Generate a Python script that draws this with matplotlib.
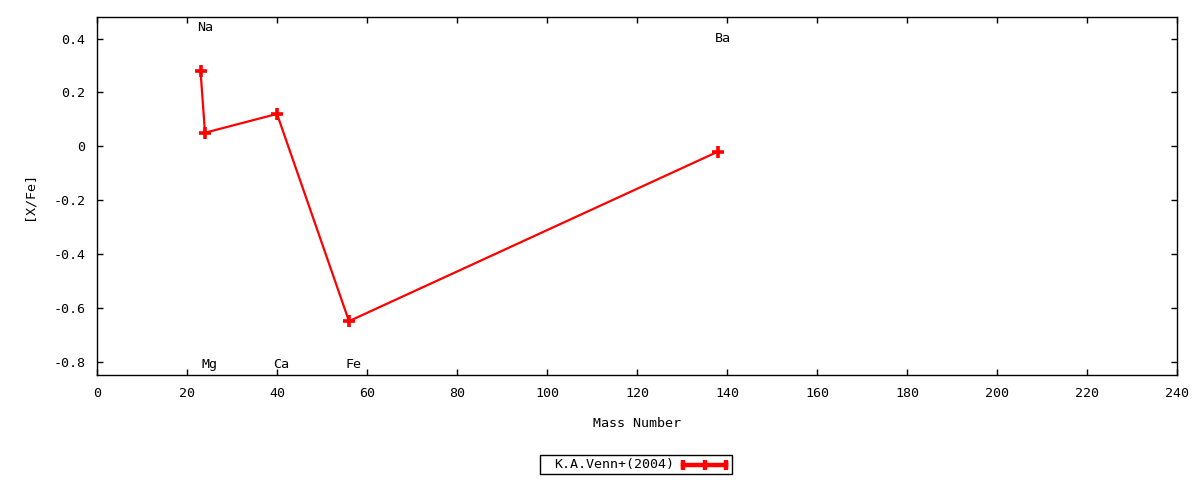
import matplotlib
matplotlib.use("Agg")
import matplotlib.pyplot as plt
from matplotlib.lines import Line2D
from matplotlib.patches import Rectangle

plt.rcParams['font.family'] = ['DejaVu Sans Mono']
FS = 9.6

# Data
elements = ["Na", "Mg", "Ca", "Fe", "Ba"]
mass_number = [23, 24, 40, 56, 138]
x_fe = [0.28, 0.05, 0.12, -0.65, -0.02]
series_label = "K.A.Venn+(2004)"
x_ticks = list(range(0, 241, 20))
y_ticks = [-0.8, -0.6, -0.4, -0.2, 0, 0.2, 0.4]
y_tick_labels = ["-0.8", "-0.6", "-0.4", "-0.2", "0", "0.2", "0.4"]

# label heights (layout)
label_y = {"Na": 0.44, "Mg": -0.81, "Ca": -0.81, "Fe": -0.81, "Ba": 0.40}

W, H = 1200, 480
fig = plt.figure(figsize=(12, 4.8), dpi=100)
ax = fig.add_axes([97/W, 1-375/H, 1080/W, 358/H])

red = '#ff0000'
line, = ax.plot(mass_number, x_fe, color=red, lw=1.6, marker='+', ms=8, mew=2.6,
                label=series_label)

for el, m in zip(elements, mass_number):
    ax.annotate(el, (m, label_y[el]), xytext=(-2.5, 0), textcoords='offset points',
                ha='left', va='center', fontsize=FS)

ax.set_xlim(0, 240)
ax.set_ylim(-0.85, 0.48)
ax.set_xticks(x_ticks)
ax.set_yticks(y_ticks)
ax.set_yticklabels(y_tick_labels)
ax.tick_params(direction='in', length=4, width=1, top=True, right=True,
               labelsize=FS, pad=8.5)
for s in ax.spines.values():
    s.set_linewidth(1.0)

ax.set_xlabel("Mass Number", fontsize=FS)
ax.xaxis.set_label_coords(0.5, -0.118)
ax.xaxis.label.set_va('top')
ax.set_ylabel("[X/Fe]", fontsize=FS)
ax.yaxis.set_label_coords(-0.0625, 0.5)
ax.yaxis.label.set_va('center')

# Key box drawn in gnuplot style (text, then sample line with caps)
def fx(px):
    return px / W

def fy(py):
    return 1 - py / H

fig.add_artist(Rectangle((fx(540), fy(474)), fx(732) - fx(540), fy(455) - fy(474),
                         transform=fig.transFigure, fill=False, edgecolor='black', lw=1.0))
fig.text(fx(554), fy(464.5), line.get_label(), ha='left', va='center', fontsize=FS)
fig.add_artist(Line2D([fx(683), fx(704.5), fx(726)], [fy(464.5)] * 3,
                      transform=fig.transFigure, color=red, lw=3.2,
                      marker='|', ms=7, mew=3.2))

fig.savefig("out.png", dpi=100)
